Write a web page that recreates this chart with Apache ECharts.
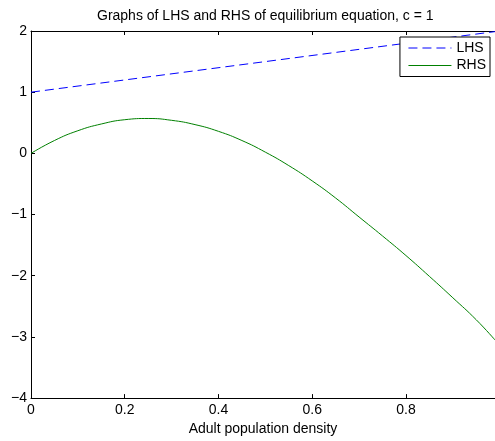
<!DOCTYPE html>
<html>
<head>
<meta charset="utf-8">
<script src="https://cdn.jsdelivr.net/npm/echarts@6/dist/echarts.min.js"></script>
<style>
  html, body { margin: 0; padding: 0; background: #fff; }
  #chart { width: 495px; height: 441px; }
</style>
</head>
<body>
<div id="chart"></div>
<script>
// LHS vs RHS of the equilibrium equation (c = 1).
const xTicks = [0, 0.2, 0.4, 0.6, 0.8];
const yTicks = [-4, -3, -2, -1, 0, 1, 2];

const lhsX = [0, 0.99];
const lhsY = [1, 1.99];

const rhsX = [0, 0.05, 0.1, 0.15, 0.2, 0.25, 0.3, 0.35, 0.4, 0.45, 0.5,
  0.55, 0.6, 0.65, 0.7, 0.75, 0.8, 0.85, 0.9, 0.95, 0.99];
const rhsY = [0, 0.21, 0.37, 0.48, 0.55, 0.57, 0.54, 0.47, 0.36, 0.21, 0.02,
  -0.20, -0.45, -0.73, -1.04, -1.35, -1.67, -2.01, -2.36, -2.72, -3.05];

const FONT = '"Liberation Sans", Arial, Helvetica, sans-serif';
const pairs = (xs, ys) => xs.map((x, i) => [x, ys[i]]);

const chart = echarts.init(document.getElementById('chart'));

const tickStyle = { inside: true, length: 4, lineStyle: { color: '#000' } };

chart.setOption({
  animation: false,
  backgroundColor: '#fff',
  textStyle: { fontFamily: FONT },
  title: {
    text: 'Graphs of LHS and RHS of equilibrium equation, c = 1',
    left: 92, top: 4,
    textStyle: { fontFamily: FONT, fontSize: 14, fontWeight: 'normal', color: '#000' },
  },
  grid: { left: 31, right: -2, top: 31, bottom: 40, containLabel: false },
  legend: {
    orient: 'vertical',
    right: 5, top: 37,
    padding: [4, 4, 4, 8],
    itemGap: 3.5,
    itemWidth: 43, itemHeight: 14,
    backgroundColor: '#fff',
    borderColor: '#000', borderWidth: 1, borderRadius: 0,
    itemStyle: { opacity: 0 },
    lineStyle: { width: 1 },
    textStyle: { fontFamily: FONT, fontSize: 14, color: '#000' },
    data: ['LHS', 'RHS'],
  },
  xAxis: [{
    type: 'value', min: 0, max: 0.99, interval: 0.2,
    name: 'Adult population density', nameLocation: 'middle', nameGap: 21,
    nameTextStyle: { fontFamily: FONT, fontSize: 14, color: '#000' },
    axisLine: { onZero: false, lineStyle: { color: '#000', width: 1 } },
    axisTick: tickStyle,
    axisLabel: { fontFamily: FONT, fontSize: 14, color: '#000', margin: 5, showMaxLabel: false,
      formatter: v => (xTicks.includes(+v.toFixed(2)) ? String(+v.toFixed(2)) : '') },
    splitLine: { show: false },
  }, {
    type: 'value', position: 'top', min: 0, max: 0.99, interval: 0.2,
    axisLine: { onZero: false, lineStyle: { color: '#000', width: 1 } },
    axisTick: tickStyle,
    axisLabel: { show: false },
    splitLine: { show: false },
  }],
  yAxis: {
    type: 'value', min: -4, max: 2, interval: 1,
    axisLine: { show: true, onZero: false, lineStyle: { color: '#000', width: 1 } },
    axisTick: tickStyle,
    axisLabel: { fontFamily: FONT, fontSize: 14, color: '#000', margin: 4,
      formatter: v => (yTicks.includes(v) ? String(v).replace('-', '\u2212') : '') },
    splitLine: { show: false },
  },
  series: [{
    name: 'LHS', type: 'line', symbol: 'none', silent: true,
    data: pairs(lhsX, lhsY),
    lineStyle: { color: '#0000ff', width: 1, type: [9, 5] },
    itemStyle: { color: '#0000ff' },
  }, {
    name: 'RHS', type: 'line', symbol: 'none', smooth: true, silent: true,
    data: pairs(rhsX, rhsY),
    lineStyle: { color: '#008000', width: 1 },
    itemStyle: { color: '#008000' },
  }],
});
</script>
</body>
</html>
